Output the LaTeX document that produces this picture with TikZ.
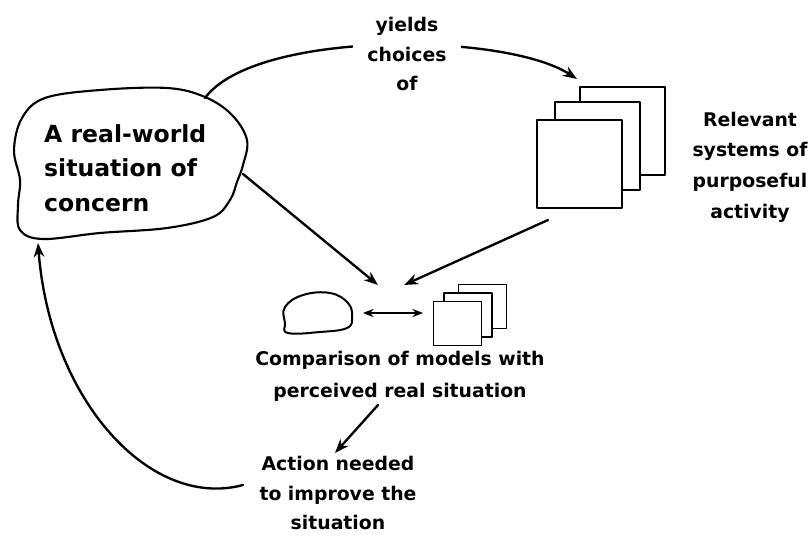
\documentclass[tikz,border=0pt]{standalone}
\usepackage{fontspec}
\setmainfont{DejaVu Sans}
\usetikzlibrary{arrows.meta}
\begin{document}
\begin{tikzpicture}[x=0.85pt,y=-0.85pt,
  line cap=round, line join=round,
  conn/.style={line width=2pt,-{Stealth[length=12pt,width=9pt]}},
  dconn/.style={line width=2pt,{Stealth[length=9pt,width=7pt]}-{Stealth[length=9pt,width=7pt]}},
  blobline/.style={line width=1.8pt},
  bigsq/.style={draw,fill=white,line width=1.4pt,inner sep=0pt,outer sep=0pt,minimum width=72.25pt,minimum height=74.8pt},
  smallsq/.style={draw,fill=white,line width=1.3pt,inner sep=0pt,outer sep=0pt,minimum width=40.8pt,minimum height=37.4pt},
  lbl/.style={font=\bfseries\fontsize{16pt}{24pt}\selectfont,align=center,inner sep=1pt},
  bloblbl/.style={font=\bfseries\fontsize{20pt}{29.5pt}\selectfont,align=left,inner sep=0pt}]
\useasboundingbox (0,0) rectangle (811,537);
% big blob
\draw[blobline] plot[smooth cycle,tension=0.6] coordinates {(22,118) (45,98) (100,90) (167,88) (205,97) (232,115) (247,140) (243,165) (237,182) (230,200) (213,217) (167,228) (100,233) (43,239) (20,230) (18,205) (20,180) (14,150)};
\node[bloblbl,anchor=west] (real) at (44,168) {A real-world\\situation of\\concern};
% small blob
\draw[line width=1.7pt] plot[smooth cycle,tension=0.7] coordinates {(285,307) (303,295) (330,293) (348,303) (352,317) (347,328) (320,332) (288,333) (285,323)};
% big squares
\node[bigsq] (sq3) at (622.5,131) {};
\node[bigsq] (sq2) at (597.5,146) {};
\node[bigsq] (sq1) at (579.5,164) {};
% small squares
\node[smallsq] (ss3) at (482.5,306.5) {};
\node[smallsq] (ss2) at (468,315) {};
\node[smallsq] (ss1) at (457.5,323.5) {};
% coordinates
\coordinate (bTop) at (205,98);
\coordinate (sqIn) at (577,79);
\coordinate (bRight) at (243,174);
\coordinate (cmpA) at (378,285);
\coordinate (sqOut) at (548,220);
\coordinate (cmpB) at (404,285);
\coordinate (sbE) at (363,313);
\coordinate (ssW) at (423,313);
\coordinate (cmpOut) at (378,405);
\coordinate (actIn) at (335,453);
\coordinate (actOut) at (243,485);
\coordinate (bBot) at (38,243);
% connectors
\draw[conn] (bTop) .. controls (255,30) and (505,32) .. (sqIn);
\node[lbl,fill=white,inner xsep=12pt,inner ysep=0pt] (yields) at (407,54) {yields\\[1pt]choices\\[1pt]of};
\draw[conn] (bRight) -- (cmpA);
\draw[conn] (sqOut) -- (cmpB);
\draw[dconn] (sbE) -- (ssW);
\draw[conn] (cmpOut) -- (actIn);
\draw[conn] (actOut) .. controls (150,510) and (50,400) .. (bBot);
% labels
\node[lbl] (rel) at (750,167) {Relevant\\[2pt]systems of\\[2pt]purposeful\\[2pt]activity};
\node[lbl] (cmp) at (400,376) {Comparison of models with\\[3pt]perceived real situation};
\node[lbl] (act) at (338,493) {Action needed\\[1pt]to improve the\\[1pt]situation};
\end{tikzpicture}
\end{document}
